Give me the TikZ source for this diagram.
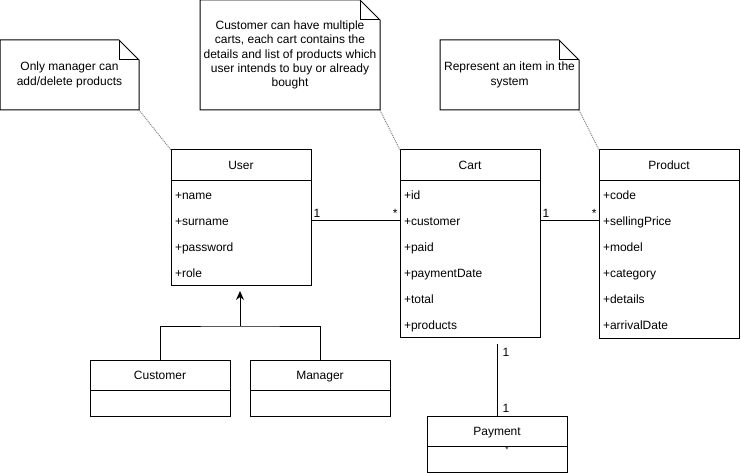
\documentclass[tikz,border=0pt]{standalone}
\usepackage{fontspec}
\setmainfont{Liberation Sans}
\usetikzlibrary{arrows.meta,calc,positioning}

\begin{document}
\begin{tikzpicture}[
      x = 1pt, y = -1pt,
      > = {Stealth[length=9pt, width=8pt]},
      line width = 1pt,
      font = \fontsize{12}{14.4}\selectfont
    ]
    \tikzstyle{class head} = [draw, outer sep=0pt, inner sep=0pt, minimum width=140pt, minimum height=31pt, text height=10pt, text depth=1.4pt]
    \tikzstyle{class body} = [draw, outer sep=0pt, inner xsep=4pt, inner ysep=0pt, text width=132pt, align=left, font=\fontsize{12}{26}\selectfont]
    \tikzstyle{note box} = [outer sep=0pt, inner sep=0pt, align=center]
    \tikzstyle{note line} = [densely dotted, gray]
    \tikzstyle{mult} = [inner sep=2pt]
    \useasboundingbox (0,0) rectangle (741,473);
    % notes
    \node[note box, minimum width=139pt, minimum height=70pt] (note1) at (69.5,75) {Only manager can\\add/delete products};
    \node[note box, minimum width=180pt, minimum height=110pt] (note2) at (290,55) {Customer can have multiple\\carts, each cart contains the\\details and list of products which\\user intends to buy or already\\bought};
    \node[note box, minimum width=139pt, minimum height=70pt] (note3) at (509.5,75) {Represent an item in the\\system};
    \foreach \n in {note1,note2,note3} {
      \draw (\n.south west) -- (\n.north west) -- ($(\n.north east)+(-20pt,0pt)$) -- ($(\n.north east)+(0pt,-20pt)$) -- (\n.south east) -- cycle;
      \draw ($(\n.north east)+(-20pt,0pt)$) |- ($(\n.north east)+(0pt,-20pt)$);
    }
    % classes
    \node[class head] (user) at (241,165.5) {User};
    \node[class body, minimum height=103pt] (user body) [below=0pt of user] {\strut+name\\\strut+surname\\\strut+password\\\strut+role};
    \node[class head] (cart) [right=89pt of user] {Cart};
    \node[class body, minimum height=155pt] (cart body) [below=0pt of cart] {\strut+id\\\strut+customer\\\strut+paid\\\strut+paymentDate\\\strut+total\\\strut+products};
    \node[class head] (product) [right=59pt of cart] {Product};
    \node[class body, minimum height=157pt] (product body) [below=0pt of product] {\strut+code\\\strut+sellingPrice\\\strut+model\\\strut+category\\\strut+details\\\strut+arrivalDate};
    \node[class head, minimum height=30pt] (customer) at (160,375) {Customer};
    \node[class body, minimum height=26pt] (customer body) [below=0pt of customer] {};
    \node[class head, minimum height=30pt] (manager) at (320,375) {Manager};
    \node[class body, minimum height=26pt] (manager body) [below=0pt of manager] {};
    \node[class head, minimum height=30pt] (payment) at (497,431) {Payment};
    \node[class body, minimum height=26pt] (payment body) [below=0pt of payment] {};
    \node (pstar) [inner sep=0pt, font=\footnotesize] at ($(payment.south)+(10pt,-4pt)$) {*};
    % note links
    \draw[note line] (note1.south east) -- (user.north west);
    \draw[note line] (note2.south east) -- (cart.north west);
    \draw[note line] (note3.south east) -- (product.north west);
    % associations
    \draw ($(user body.north east)+(0pt,-39pt)$) -- node[mult, pos=0, above right] {1} node[mult, pos=1, above left] {*} ($(cart body.north west)+(0pt,-39pt)$);
    \draw ($(cart body.north east)+(0pt,-39pt)$) -- node[mult, pos=0, above right] {1} node[mult, pos=1, above left] {*} ($(product body.north west)+(0pt,-39pt)$);
    \draw ($(payment.north |- cart body.south)+(0pt,-7pt)$) -- node[mult, pos=0.12, right=3pt] {1} node[mult, pos=0.9, right=3pt] {1} (payment.north);
    % inheritance
    \coordinate (split) at ($(customer.north)!0.5!(manager.north)+(0pt,34pt)$);
    \draw (customer.north) |- (split) -| (manager.north);
    \draw[->, shorten >=6pt] (split) -- (split |- user body.south);
  \end{tikzpicture}
\end{document}
